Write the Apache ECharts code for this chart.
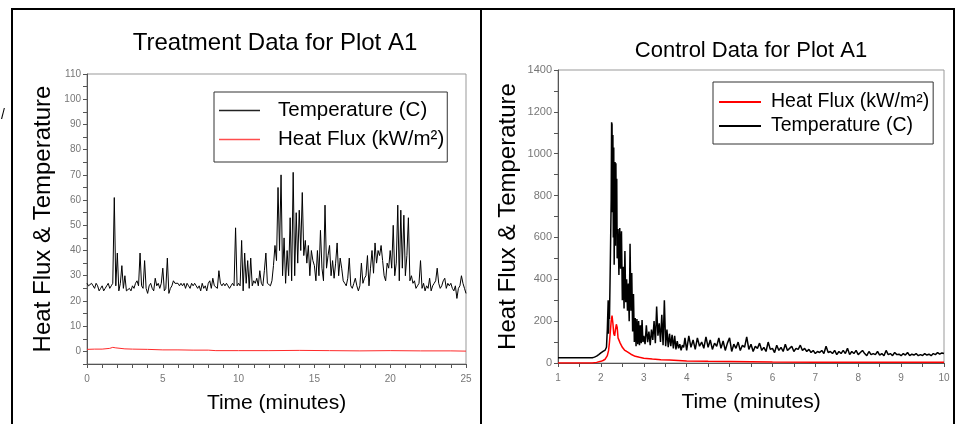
<!DOCTYPE html>
<html><head><meta charset="utf-8">
<script src="https://cdn.jsdelivr.net/npm/echarts/dist/echarts.min.js"></script>
<style>html,body{margin:0;padding:0;background:#fff}#c{width:959px;height:424px}</style>
</head><body><div id="c"></div>
<script>
// ---------- Treatment (left) ----------
const LEFT_TITLE = 'Treatment Data for Plot A1';
const RIGHT_TITLE = 'Control Data for Plot A1';
const TEMP_NAME = 'Temperature (C)';
const FLUX_NAME = 'Heat Flux (kW/m\u00B2)';
const X_NAME = 'Time (minutes)';
const Y_NAME = 'Heat Flux & Temperature';

// temperature every 0.1 min from 0 to 25
const LEFT_TEMP_START = 0, LEFT_TEMP_STEP = 0.1;
const LEFT_TEMP = [
 27,26,26,27,26,25,27,26,24,25,
 26,24,25,26,27,25,26,27,61,26,
 39,24,27,34,25,30,24,24,25,24,
 26,25,27,28,26,39,26,25,36,25,
 23,26,27,25,24,29,26,27,25,27,
 33,24,25,37,23,25,26,28,27,27,
 27,26,27,26,27,25,27,26,25,27,
 26,27,26,25,26,24,27,25,26,24,
 27,28,25,29,26,26,25,32,27,26,
 27,26,27,26,25,26,27,26,49,26,
 27,26,44,24,39,27,36,25,37,26,
 28,27,29,26,32,27,26,32,39,27,
 27,26,28,34,42,36,65,40,70,30,
 45,27,40,30,53,28,71,30,55,35,
 56,40,63,38,44,35,42,30,40,36,
 34,28,40,30,48,33,28,58,33,38,
 42,30,36,29,35,43,30,37,33,28,
 27,26,29,37,26,25,27,29,26,24,
 26,35,27,29,30,38,26,33,40,31,
 43,35,40,38,42,36,30,28,35,33,
 40,33,50,30,35,58,28,56,33,54,
 30,38,53,28,30,27,28,25,26,27,
 36,25,27,24,26,25,29,24,26,27,
 28,33,27,25,26,28,29,25,27,26,
 27,25,24,26,21,25,26,30,27,25,
 23
];
const LEFT_FLUX_T = [0,0.5,1,1.5,1.7,1.8,1.9,2,2.5,3,4,5,6,7,8,8.5,10,12,14,16,18,20,22,24,25];
const LEFT_FLUX   = [0.8,0.9,0.9,1.2,1.6,1.9,1.4,1.1,1.0,0.9,0.8,0.6,0.6,0.5,0.5,0.3,0.3,0.3,0.4,0.3,0.2,0.3,0.2,0.2,0.1];

// ---------- Control (right) ----------
const RIGHT_TEMP_EARLY_T = [1.0,1.8,1.85,1.9,1.95,2.0,2.05,2.1,2.13,2.15,2.17,2.18,2.19,2.2,2.22,2.24,2.25,2.26,2.27,2.28,2.29,2.3,2.31,2.32,2.33,2.34,2.35,2.36,2.37,2.38,2.4,2.42,2.44,2.46,2.48,2.5,2.52,2.54,2.56,2.58,2.6,2.62,2.64,2.66,2.68,2.7,2.72,2.74,2.76,2.78,2.8,2.82,2.84,2.86,2.88,2.9,2.92,2.94,2.96,2.98,3.0,3.03,3.06,3.09,3.12,3.15,3.18,3.21,3.24,3.27,3.3,3.33,3.36,3.39,3.42,3.45,3.48,3.51,3.54,3.57,3.6,3.63,3.66,3.69,3.72,3.75,3.78,3.81,3.84,3.87,3.9,3.93,3.96,4.0];
const RIGHT_TEMP_EARLY   = [25,25,28,33,40,48,55,62,75,160,300,140,285,210,480,780,1150,1140,720,1090,600,1030,470,760,960,560,955,620,880,500,640,420,645,450,630,300,460,260,535,290,400,250,380,200,570,250,430,150,330,100,215,80,210,90,200,85,180,95,205,100,130,90,180,100,150,85,160,110,200,95,270,130,190,100,230,85,300,80,160,75,140,80,135,70,130,65,105,70,90,60,85,75,120,60];
// tail every 0.05 min from 4.05 to 10
const RIGHT_TAIL_START = 4.05, RIGHT_TAIL_STEP = 0.05;
const RIGHT_TEMP_TAIL = [
 130,75,110,65,120,80,100,70,125,75,
 110,65,95,80,120,70,105,60,95,120,
 55,90,70,100,60,85,75,125,65,90,
 55,80,70,95,60,75,55,100,65,70,
 50,85,60,75,55,90,60,70,80,55,
 70,65,85,60,70,55,65,50,60,45,
 55,50,60,45,80,50,55,45,60,40,
 55,45,60,45,70,40,55,45,60,40,
 50,60,45,35,55,40,45,40,55,38,
 45,35,60,40,45,35,50,40,42,35,
 45,38,50,35,42,38,45,35,40,36,
 45,38,42,35,45,40,50,42,48,45
];
const RIGHT_FLUX_T = [1.0,1.8,1.9,2.0,2.05,2.1,2.15,2.18,2.2,2.22,2.24,2.26,2.28,2.3,2.32,2.34,2.36,2.38,2.4,2.45,2.5,2.55,2.6,2.7,2.8,2.9,3.0,3.2,3.4,3.6,3.8,4.0,4.5,5.0,5.5,6.0,7.0,8.0,9.0,10.0];
const RIGHT_FLUX   = [0,0,3,8,12,18,35,60,100,150,200,226,190,140,130,160,185,170,120,95,75,62,55,42,32,27,23,19,16,14,12,10,8,7,6,5,4,4,3.5,3];

// ---------- build ----------
const FONT = 'Liberation Sans, Arial, sans-serif';
const leftTemp = LEFT_TEMP.map((v, i) => [+(LEFT_TEMP_START + i * LEFT_TEMP_STEP).toFixed(2), v]);
const leftFlux = LEFT_FLUX_T.map((t, i) => [t, LEFT_FLUX[i]]);
const rightTemp = RIGHT_TEMP_EARLY_T.map((t, i) => [t, RIGHT_TEMP_EARLY[i]])
  .concat(RIGHT_TEMP_TAIL.map((v, i) => [+(RIGHT_TAIL_START + i * RIGHT_TAIL_STEP).toFixed(2), v]));
const rightFlux = RIGHT_FLUX_T.map((t, i) => [t, RIGHT_FLUX[i]]);

const axisCol = '#555', labCol = '#777';
function xAx(gi, min, max, interval, labelEvery) {
  return {
    gridIndex: gi, type: 'value', min, max, interval,
    axisLine: { onZero: false, lineStyle: { color: axisCol, width: 1 } },
    axisTick: { length: 4, lineStyle: { color: axisCol } },
    axisLabel: { color: labCol, fontSize: 10, fontFamily: FONT, margin: 10,
      formatter: v => (Math.abs(v / labelEvery - Math.round(v / labelEvery)) < 1e-6 ? String(Math.round(v)) : '') },
    splitLine: { show: false },
    name: X_NAME, nameLocation: 'middle', nameGap: 29,
    nameTextStyle: { fontSize: 21, color: '#000', fontFamily: FONT }
  };
}
function yAx(gi, min, max, interval, labelEvery, fs, gap) {
  return {
    gridIndex: gi, type: 'value', min, max, interval,
    axisLine: { show: true, onZero: false, lineStyle: { color: axisCol, width: 1 } },
    axisTick: { show: true, length: 4, lineStyle: { color: axisCol } },
    axisLabel: { color: labCol, fontSize: fs, fontFamily: FONT, margin: 6,
      formatter: v => (v >= 0 && v % labelEvery === 0 ? String(v) : '') },
    splitLine: { show: false },
    name: Y_NAME, nameLocation: 'middle', nameGap: gap, nameRotate: 90,
    nameTextStyle: { fontSize: 24, color: '#000', fontFamily: FONT }
  };
}

const chart = echarts.init(document.getElementById('c'), null, { renderer: 'canvas' });
chart.setOption({
  animation: false,
  backgroundColor: '#fff',
  title: [
    { text: LEFT_TITLE, left: 270, top: 26, textAlign: 'center',
      textStyle: { fontSize: 24, fontWeight: 'normal', color: '#000', fontFamily: FONT } },
    { text: RIGHT_TITLE, left: 746, top: 35, textAlign: 'center',
      textStyle: { fontSize: 22, fontWeight: 'normal', color: '#000', fontFamily: FONT } }
  ],
  grid: [
    { left: 87, top: 74, width: 379, height: 290, show: true, borderColor: '#999', borderWidth: 1, containLabel: false },
    { left: 558, top: 70, width: 386, height: 293, show: true, borderColor: '#999', borderWidth: 1, containLabel: false }
  ],
  xAxis: [ xAx(0, 0, 25, 1, 5), xAx(1, 1, 10, 0.5, 1) ],
  yAxis: [ yAx(0, -5, 110, 5, 10, 10, 32), yAx(1, 0, 1400, 100, 200, 11, 38) ],
  legend: [
    { orient: 'vertical', left: 214, top: 92, itemGap: 8, icon: 'rect', itemWidth: 41, itemHeight: 1.5,
      padding: [8, 3, 12, 5], borderColor: '#333', borderWidth: 1, backgroundColor: '#fff',
      selectedMode: false,
      textStyle: { fontSize: 20.5, color: '#000', fontFamily: FONT, padding: [0, 0, 0, 13], lineHeight: 20 },
      data: [ { name: TEMP_NAME, itemStyle: { color: '#222' } },
              { name: FLUX_NAME, itemStyle: { color: '#ff4d4d' } } ] },
    { orient: 'vertical', left: 713, top: 82, itemGap: 4, icon: 'rect', itemWidth: 42, itemHeight: 2,
      padding: [10, 4, 8, 6], borderColor: '#333', borderWidth: 1, backgroundColor: '#fff',
      selectedMode: false,
      textStyle: { fontSize: 19.5, color: '#000', fontFamily: FONT, padding: [0, 0, 0, 5], lineHeight: 19 },
      data: [ { name: FLUX_NAME, itemStyle: { color: '#ff0000' } },
              { name: TEMP_NAME, itemStyle: { color: '#000' } } ] }
  ],
  series: [
    { name: TEMP_NAME, type: 'line', xAxisIndex: 0, yAxisIndex: 0, data: leftTemp,
      showSymbol: false, symbol: 'none', lineStyle: { color: '#000', width: 1 }, itemStyle: { color: '#000' } },
    { name: FLUX_NAME, type: 'line', xAxisIndex: 0, yAxisIndex: 0, data: leftFlux,
      showSymbol: false, symbol: 'none', lineStyle: { color: '#ff2a2a', width: 1 }, itemStyle: { color: '#ff2a2a' } },
    { name: TEMP_NAME, type: 'line', xAxisIndex: 1, yAxisIndex: 1, data: rightTemp,
      showSymbol: false, symbol: 'none', lineStyle: { color: '#000', width: 1.5 }, itemStyle: { color: '#000' } },
    { name: FLUX_NAME, type: 'line', xAxisIndex: 1, yAxisIndex: 1, data: rightFlux,
      showSymbol: false, symbol: 'none', lineStyle: { color: '#ff0000', width: 1.5 }, itemStyle: { color: '#ff0000' } }
  ],
  graphic: [
    { type: 'polyline', shape: { points: [[12, 424], [12, 9], [954, 9], [954, 424]] },
      style: { stroke: '#000', lineWidth: 2, fill: null }, silent: true },
    { type: 'line', shape: { x1: 481, y1: 9, x2: 481, y2: 424 },
      style: { stroke: '#000', lineWidth: 2 }, silent: true },
    { type: 'text', left: 1, top: 108, style: { text: '/', fontSize: 14, fill: '#000', fontFamily: FONT }, silent: true }
  ]
});
</script></body></html>
